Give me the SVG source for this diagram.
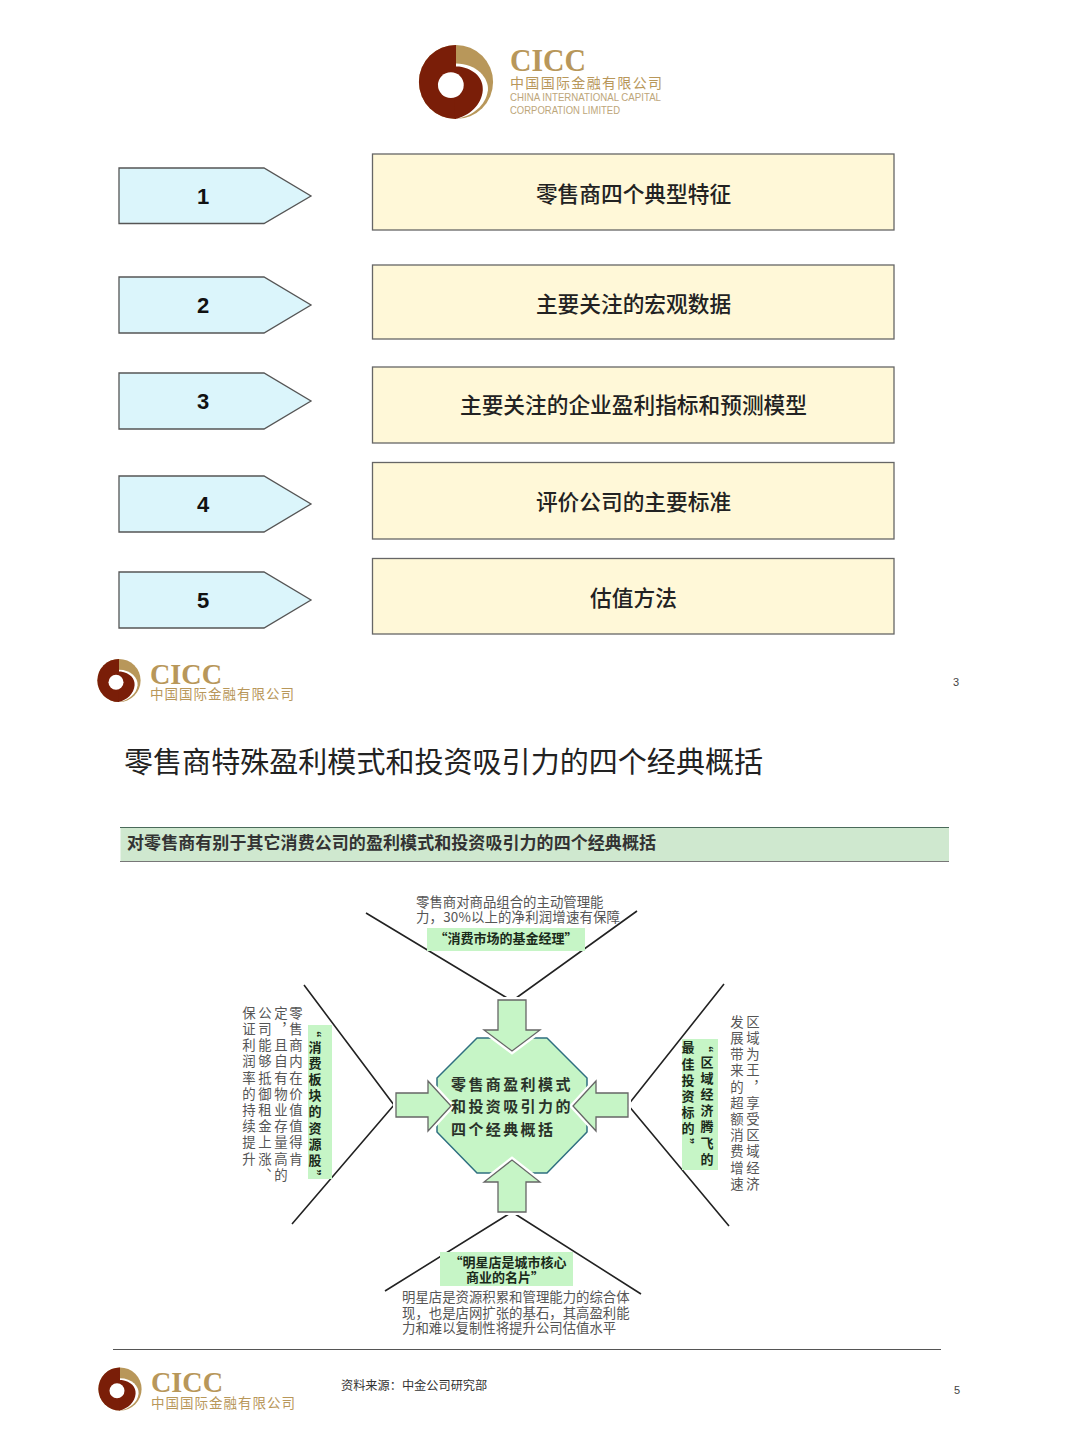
<svg xmlns="http://www.w3.org/2000/svg" width="1080" height="1440" viewBox="0 0 1080 1440">
<style>
text{font-family:"Noto Sans CJK SC","Liberation Sans",sans-serif}
.chev{fill:#dbf5fb;stroke:#555;stroke-width:1.3}
.box{fill:#fff8d8;stroke:#666;stroke-width:1.3}
.num{font-family:"Liberation Sans",Arial,sans-serif;font-weight:700;font-size:22px;text-anchor:middle;dominant-baseline:central;fill:#111}
.bt{font-size:21.7px;text-anchor:middle;dominant-baseline:central;fill:#222;font-weight:500}
.gold{fill:#b8975a}
.cicc{font-family:"Liberation Serif",serif;font-weight:700}
.en{font-family:"Liberation Sans",sans-serif;fill:#bda67a}
.lab{fill:#c6f5c6}
.g{font-size:13.4px;fill:#555;dominant-baseline:central}
.gv{font-size:13.4px;fill:#555;writing-mode:vertical-rl;letter-spacing:2.8px}
.b{font-size:13px;font-weight:700;fill:#1a2a1a;dominant-baseline:central;text-anchor:middle}
.bv{font-size:13px;font-weight:700;fill:#1a2a1a;writing-mode:vertical-rl;letter-spacing:3.2px}
.ct{font-size:15px;font-weight:700;fill:#2a332a;letter-spacing:2.4px;dominant-baseline:central}
.ln{fill:none;stroke:#222;stroke-width:1.6}
.ar{fill:#c6f5c6;stroke:#666;stroke-width:1.3}
.halo{fill:#fff;stroke:#fff;stroke-width:6}
</style>
<defs>
<g id="mark">
<circle r="36" fill="#b8975a"/>
<path d="M0,-36A36,36 0 0 0 0,36Z" fill="#7a1e08"/>
<path d="M0,-18C20,-18 32,-4 31,8C29,23 16,33 0,36Z" fill="#fff"/>
<path d="M3,-15C18,-13 27,-3 26,8C25,22 13,33 -1,36L-2,-15Z" fill="#7a1e08"/>
<circle cx="-5" cy="3" r="12.5" fill="#fff"/>
</g>
</defs>
<rect width="1080" height="1440" fill="#fff"/>

<g id="logo-top">
<use href="#mark" transform="translate(456,82) scale(1.03)"/>
<text x="510" y="71" class="cicc gold" font-size="31" textLength="76" lengthAdjust="spacingAndGlyphs">CICC</text>
<text x="510" y="82" class="gold" font-size="14" textLength="152" dominant-baseline="central">中国国际金融有限公司</text>
<text x="510" y="101" class="en" font-size="10.5" textLength="151" lengthAdjust="spacingAndGlyphs">CHINA INTERNATIONAL CAPITAL</text>
<text x="510" y="114" class="en" font-size="10.5" textLength="110" lengthAdjust="spacingAndGlyphs">CORPORATION LIMITED</text>
</g>

<g id="item-1"><path class="chev" d="M119,168H264L311,196L264,223.500H119Z"/><text class="num" x="203" y="196">1</text></g>
<g id="item-2"><path class="chev" d="M119,277H264L311,305L264,333H119Z"/><text class="num" x="203" y="305">2</text></g>
<g id="item-3"><path class="chev" d="M119,373H264L311,401L264,429H119Z"/><text class="num" x="203" y="401">3</text></g>
<g id="item-4"><path class="chev" d="M119,476H264L311,504L264,532H119Z"/><text class="num" x="203" y="504">4</text></g>
<g id="item-5"><path class="chev" d="M119,572H264L311,600L264,628H119Z"/><text class="num" x="203" y="600">5</text></g>

<g id="box-1"><rect class="box" x="372.500" y="154" width="521.500" height="76"/><text class="bt" x="633.500" y="192">零售商四个典型特征</text></g>
<g id="box-2"><rect class="box" x="372.500" y="265" width="521.500" height="74"/><text class="bt" x="633.500" y="302">主要关注的宏观数据</text></g>
<g id="box-3"><rect class="box" x="372.500" y="367" width="521.500" height="76"/><text class="bt" x="633.500" y="403">主要关注的企业盈利指标和预测模型</text></g>
<g id="box-4"><rect class="box" x="372.500" y="462.500" width="521.500" height="76.500"/><text class="bt" x="633.500" y="500">评价公司的主要标准</text></g>
<g id="box-5"><rect class="box" x="372.500" y="558.500" width="521.500" height="75.500"/><text class="bt" x="633.500" y="596">估值方法</text></g>

<g id="logo-mid">
<use href="#mark" transform="translate(119,680.500) scale(.6)"/>
<text x="150" y="684" class="cicc gold" font-size="29" textLength="72" lengthAdjust="spacingAndGlyphs">CICC</text>
<text x="150" y="693" class="gold" font-size="13.500" textLength="144" dominant-baseline="central">中国国际金融有限公司</text>
</g>
<text x="956" y="686" font-size="11" fill="#444" text-anchor="middle" style="font-family:'Liberation Sans',sans-serif">3</text>

<text x="124" y="773" font-size="29" fill="#222" textLength="639">零售商特殊盈利模式和投资吸引力的四个经典概括</text>

<g id="band">
<rect x="120.500" y="827.500" width="828.500" height="34" fill="#cfe8cf"/>
<path d="M120,827.500H949" stroke="#4a6a5a" stroke-width="1.200"/>
<path d="M120,861.500H949" stroke="#777" stroke-width="1"/>
<text x="127" y="841" font-size="17" font-weight="700" fill="#333" textLength="529" dominant-baseline="central">对零售商有别于其它消费公司的盈利模式和投资吸引力的四个经典概括</text>
</g>

<g id="connectors">
<path class="ln" d="M366,913L512,1001L637,911"/>
<path class="ln" d="M304,985L394,1105L292,1224"/>
<path class="ln" d="M724,984L628,1105L729,1226"/>
<path class="ln" d="M385,1291L512,1212L641,1294"/>
</g>

<g id="center">
<path d="M477,1038H547L587,1078V1132L547,1173H477L437,1132V1078Z" fill="#c6f5c6" stroke="#2f6f80" stroke-width="1.500" stroke-linejoin="round"/>
<path class="halo" d="M498,1000H526V1030H540L512,1051L484,1030H498Z"/>
<path class="halo" d="M498,1212H526V1182H540L512,1160L484,1182H498Z"/>
<path class="halo" d="M396,1093H428V1081L451,1106L428,1131V1117H396Z"/>
<path class="halo" d="M628,1093H596V1081L573,1106L596,1131V1117H628Z"/>
<text class="ct" x="451" y="1083">零售商盈利模式</text>
<text class="ct" x="451" y="1105">和投资吸引力的</text>
<text class="ct" x="451" y="1128">四个经典概括</text>
</g>
<g id="arrow-top"><path class="ar" d="M498,1000H526V1030H540L512,1051L484,1030H498Z"/></g>
<g id="arrow-bottom"><path class="ar" d="M498,1212H526V1182H540L512,1160L484,1182H498Z"/></g>
<g id="arrow-left"><path class="ar" d="M396,1093H428V1081L451,1106L428,1131V1117H396Z"/></g>
<g id="arrow-right"><path class="ar" d="M628,1093H596V1081L573,1106L596,1131V1117H628Z"/></g>

<g id="top-note">
<text class="g" x="416" y="901">零售商对商品组合的主动管理能</text>
<text class="g" x="416" y="916" textLength="204">力，30%以上的净利润增速有保障</text>
<rect class="lab" x="427" y="928" width="158" height="23"/>
<text class="b" x="506" y="937">“消费市场的基金经理”</text>
</g>

<g id="left-note">
<text class="gv" x="296" y="1006">零售商内在价值值得肯</text>
<text class="gv" x="281" y="1006">定，且自有物业存量高的</text>
<text class="gv" x="265" y="1006">公司能够抵御租金上涨、</text>
<text class="gv" x="249" y="1006">保证利润率的持续提升</text>
<rect class="lab" x="308" y="1025" width="24" height="154"/>
<text class="bv" x="315" y="1024">“消费板块的资源股”</text>
</g>

<g id="right-note">
<rect class="lab" x="682" y="1039" width="36" height="131"/>
<text class="bv" x="707" y="1039">“区域经济腾飞的</text>
<text class="bv" x="688" y="1041">最佳投资标的”</text>
<text class="gv" x="753" y="1015">区域为王，享受区域经济</text>
<text class="gv" x="737" y="1015">发展带来的超额消费增速</text>
</g>

<g id="bottom-note">
<rect class="lab" x="440" y="1252" width="133" height="34"/>
<text class="b" x="508" y="1261">“明星店是城市核心</text>
<text class="b" x="505" y="1276">商业的名片”</text>
<text class="g" x="402" y="1296">明星店是资源积累和管理能力的综合体</text>
<text class="g" x="402" y="1312">现，也是店网扩张的基石，其高盈利能</text>
<text class="g" x="402" y="1327">力和难以复制性将提升公司估值水平</text>
</g>

<path d="M113,1349.500H941" stroke="#555" stroke-width="1"/>
<g id="logo-bottom">
<use href="#mark" transform="translate(120,1389) scale(.6)"/>
<text x="151" y="1392" class="cicc gold" font-size="29" textLength="72" lengthAdjust="spacingAndGlyphs">CICC</text>
<text x="151" y="1402" class="gold" font-size="13.500" textLength="144" dominant-baseline="central">中国国际金融有限公司</text>
</g>
<text x="341" y="1385" font-size="12.200" fill="#333" dominant-baseline="central">资料来源：中金公司研究部</text>
<text x="957" y="1394" font-size="11" fill="#444" text-anchor="middle" style="font-family:'Liberation Sans',sans-serif">5</text>
</svg>
